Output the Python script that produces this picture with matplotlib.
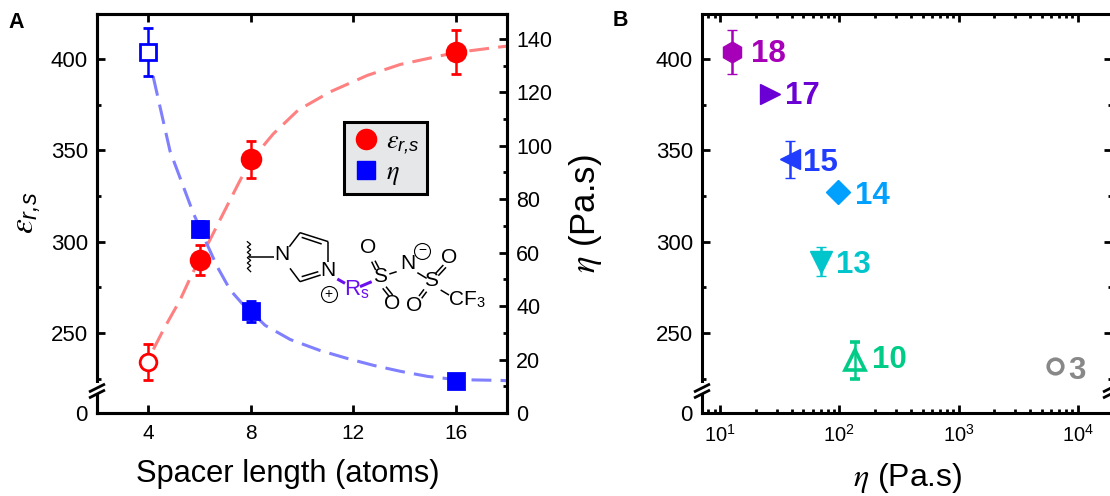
import numpy as np
import matplotlib
matplotlib.use("Agg")
import matplotlib.pyplot as plt
from matplotlib.lines import Line2D
from matplotlib.ticker import FixedLocator, LogLocator, NullFormatter

plt.rcParams["font.family"] = ["Liberation Sans", "DejaVu Sans"]
plt.rcParams["mathtext.fontset"] = "custom"
plt.rcParams["mathtext.rm"] = "Liberation Sans"
plt.rcParams["mathtext.it"] = "STIXGeneral:italic"
plt.rcParams["mathtext.sf"] = "Liberation Sans:italic"
plt.rcParams["mathtext.fallback"] = "stix"

W, H = 1110, 496

# Panel A data
spacer = [4, 6, 8, 16]
eps_vals = [234, 290, 345, 404]
eps_err = [10, 8, 10, 12]
eta_vals = [135, 69, 38, 12]
eta_err = [9, 3, 4, 0]

eps_curve_x = [4.2, 4.6, 5.24, 5.7, 6.3, 7.2, 7.6, 8, 8.64, 8.88, 9.85, 11.1, 12.55, 13.84, 15, 16, 17.75, 18]
eps_curve_y = [241, 252, 268, 282, 298, 323, 334, 344, 355, 359, 372, 382, 391, 397, 400.5, 403.5, 406.6, 407]
eta_curve_x = [4.19, 4.85, 5.75, 6.3, 6.7, 7.2, 7.66, 8, 8.56, 9.54, 10.7, 11.77, 12.8, 13.84, 14.9, 16, 17.75, 18]
eta_curve_y = [126, 98, 75, 63, 54.6, 46, 41, 38, 32.8, 27.5, 23.4, 20.4, 17.8, 15.6, 13.7, 12.5, 12.2, 12.1]

# Panel B data
sample_names = ["18", "17", "15", "14", "13", "10", "3"]
sample_eta = [12.6, 26.3, 38.7, 98, 70.6, 136, 6400]
sample_eps = [404, 381, 345, 327, 289, 235, 232]
sample_err = [12, 0, 10, 0, 8, 10, 0]
sample_marker = ["h", ">", "<", "D", "v", "^", "o"]
sample_color = ["#A600B8", "#6A00D4", "#1F3CFF", "#00A0FF", "#00C6CC", "#00CC88", "#888888"]
label_offset = [(13.5, -2), (11, -1.5), (9.5, -2.5), (12, -2.5), (10.5, -2), (12, 0.5), (10, -3.5)]

eps_ticks = [0, 250, 300, 350, 400]
eps_minor = [225, 275, 325, 375]
eta_ticks = list(range(0, 160, 20))
eta_minor = list(range(10, 150, 20))

# broken left axis: 0-219 squeezed in the bottom bit
BREAK_V = 219.3
BREAK_S = 13.1


def to_scaled(v):
    v = np.asarray(v, dtype=float)
    return np.where(v <= BREAK_V, v * BREAK_S / BREAK_V, BREAK_S + v - BREAK_V)


def from_scaled(s):
    s = np.asarray(s, dtype=float)
    return np.where(s <= BREAK_S, s * BREAK_V / BREAK_S, BREAK_V + s - BREAK_S)


def fx(px):
    return px / W


def fy(py):
    return 1 - py / H


def setup_eps_axis(ax):
    ax.set_yscale("function", functions=(to_scaled, from_scaled))
    ax.set_ylim(0, 424.6)
    ax.yaxis.set_major_locator(FixedLocator(eps_ticks))
    ax.yaxis.set_minor_locator(FixedLocator(eps_minor))
    ax.yaxis.set_major_formatter(plt.FixedFormatter([str(t) for t in eps_ticks]))
    ax.yaxis.set_minor_formatter(NullFormatter())
    for s in ax.spines.values():
        s.set_linewidth(2.2)


def fig_line(x0, y0, x1, y1, color="black", lw=1.0):
    fig.add_artist(Line2D([fx(x0), fx(x1)], [fy(y0), fy(y1)], color=color, lw=lw,
                          solid_capstyle="butt", zorder=6))


def axis_break(px):
    # white gap then two slanted strokes
    fig_line(px, 383, px, 393, color="white", lw=3)
    fig_line(px - 8, 392, px + 8, 384, lw=2)
    fig_line(px - 8, 398, px + 8, 390, lw=2)


fig = plt.figure(figsize=(W / 100, H / 100), dpi=100)

# ---- Panel A ----
ax1 = fig.add_axes([fx(97), fy(413), 410 / W, 399 / H])
setup_eps_axis(ax1)
ax1.set_xlim(2, 18)
ax1.set_xticks([4, 8, 12, 16])
ax1.tick_params(axis="x", which="major", direction="in", top=True, length=5.5, width=2,
                labelsize=15, pad=8)
ax1.tick_params(axis="y", which="major", direction="in", length=5.5, width=2, labelsize=16, pad=6.5)
ax1.tick_params(axis="y", which="minor", direction="in", length=3, width=2)

ax2 = ax1.twinx()
ax2.set_ylim(0, 149.3)
ax2.set_yticks(eta_ticks)
ax2.yaxis.set_minor_locator(FixedLocator(eta_minor))
ax2.tick_params(axis="y", which="major", direction="in", length=5.5, width=2, labelsize=15.5, pad=6.5)
ax2.tick_params(axis="y", which="minor", direction="in", length=3, width=2)
for s in ax2.spines.values():
    s.set_linewidth(2.2)

ax1.plot(eps_curve_x, eps_curve_y, color="#FF8080", lw=2.2, dashes=(6.5, 3))
ax2.plot(eta_curve_x, eta_curve_y, color="#8080FF", lw=2.2, dashes=(6.5, 3))

for i in range(len(spacer)):
    face = "white" if i == 0 else "red"
    ax1.errorbar(spacer[i], eps_vals[i], yerr=eps_err[i], fmt="o", ms=13.5 if i else 12,
                 mfc=face, mec="red", mew=2, color="red", elinewidth=1.8, capsize=3.8, capthick=1.8)
    face = "white" if i == 0 else "blue"
    ax2.errorbar(spacer[i], eta_vals[i], yerr=eta_err[i] if eta_err[i] else None, fmt="s",
                 ms=12, mfc=face, mec="blue", mew=2, color="blue", elinewidth=1.8,
                 capsize=3.8, capthick=1.8)

leg_handles = [
    Line2D([], [], marker="o", ls="", color="red", ms=14.5),
    Line2D([], [], marker="s", ls="", color="blue", ms=13),
]
leg = fig.legend(leg_handles, [r"$\varepsilon_{\mathsf{r{,}s}}$", r"$\eta$"], loc="center",
                 bbox_to_anchor=(fx(385.5), fy(158)), fontsize=19, fancybox=False,
                 facecolor="#E6E7E8", edgecolor="black", framealpha=1, handletextpad=0.2,
                 labelspacing=0.15, borderpad=0.28, handlelength=1.1)
leg.get_frame().set_linewidth(2.2)
leg.set_zorder(5)

fig.text(fx(288), fy(474), "Spacer length (atoms)", fontsize=22.2, ha="center", va="center")
fig.text(fx(27), fy(213), r"$\varepsilon_{\mathsf{r{,}s}}$", fontsize=24, rotation=90, ha="center", va="center")
fig.text(fx(586), fy(214), r"$\eta$ (Pa.s)", fontsize=25, rotation=90, ha="center", va="center")
fig.text(fx(8), fy(22), "A", fontsize=15.5, fontweight="bold", ha="left", va="center")
fig.text(fx(613), fy(21), "B", fontsize=15.5, fontweight="bold", ha="left", va="center")

# ---- Panel B ----
ax3 = fig.add_axes([fx(702), fy(413), 410 / W, 399 / H])
setup_eps_axis(ax3)
ax3.set_xscale("log")
ax3.set_xlim(7.07, 19320)
ax3.xaxis.set_major_locator(LogLocator(base=10, numticks=8))
ax3.xaxis.set_minor_locator(LogLocator(base=10, subs=np.arange(2, 10), numticks=12))
ax3.xaxis.set_minor_formatter(NullFormatter())
ax3.tick_params(axis="x", which="major", direction="in", top=True, length=5.5, width=2, labelsize=14.5, pad=8)
ax3.tick_params(axis="x", which="minor", direction="in", top=True, length=3, width=2)
ax3.tick_params(axis="y", which="major", direction="in", right=True, length=5.5, width=2, labelsize=16, pad=6.5)
ax3.tick_params(axis="y", which="minor", direction="in", right=True, length=3, width=2)

marker_size = {"h": 15, ">": 15, "<": 15, "D": 12.5, "v": 16, "^": 14, "o": 10.5}
for i in range(len(sample_names)):
    open_mark = sample_names[i] in ("10", "3")
    ax3.errorbar(sample_eta[i], sample_eps[i], yerr=sample_err[i] if sample_err[i] else None,
                 fmt=sample_marker[i], ms=marker_size[sample_marker[i]],
                 mfc="none" if open_mark else sample_color[i], mec=sample_color[i],
                 mew=2.6 if open_mark else 1, color=sample_color[i],
                 elinewidth=1.8, capsize=3.5, capthick=1.8)
    ax3.annotate(sample_names[i], (sample_eta[i], sample_eps[i]), xytext=label_offset[i],
                 textcoords="offset points", color=sample_color[i], fontsize=22.5,
                 fontweight="bold", ha="left", va="center")

fig.text(fx(908), fy(478), r"$\eta$ (Pa.s)", fontsize=23, ha="center", va="center")

axis_break(97)
axis_break(702)
axis_break(1111)


# ---- Molecule sketch (pixel positions on the page) ----
def zx(v):
    return 230 + v / 3


def zy(v):
    return 100 + v / 3


def bond(a, b, c, d, color="black", lw=1.1):
    fig_line(zx(a), zy(b), zx(c), zy(d), color=color, lw=lw)


def atom(x, y, s, color="black", size=15):
    fig.text(fx(zx(x)), fy(zy(y)), s, fontsize=size, color=color, ha="center", va="center", zorder=7)


for seg in [(58, 470, 132, 470), (178, 440, 210, 398), (210, 398, 295, 425), (295, 425, 295, 485),
            (272, 525, 210, 545), (210, 545, 180, 505), (215, 412, 275, 432), (215, 530, 265, 515),
            (478, 522, 500, 515), (562, 518, 590, 535), (632, 570, 657, 585),
            (425, 485, 437, 510), (435, 482, 447, 505), (458, 565, 478, 590), (468, 560, 488, 585),
            (617, 520, 640, 495), (625, 527, 648, 502), (575, 595, 590, 575), (567, 588, 582, 568)]:
    bond(*seg)
bond(322, 537, 345, 550, color="#6A10F0", lw=2.2)
bond(390, 560, 425, 545, color="#6A10F0", lw=2.2)

wave_y = [425, 433, 441, 449, 457, 465, 473, 481, 489, 497, 505, 515]
wave_x = [52, 62, 52, 62, 52, 62, 52, 62, 52, 62, 52, 62]
fig.add_artist(Line2D([fx(zx(v)) for v in wave_x], [fy(zy(v)) for v in wave_y], color="black", lw=0.9))

atom(155, 464, "N")
atom(295, 510, "N")
atom(450, 528, "S")
atom(413, 443, "O")
atom(487, 610, "O")
atom(533, 490, "N")
atom(603, 542, "S")
atom(658, 472, "O")
atom(552, 617, "O")
atom(710, 600, r"CF$_{\mathrm{3}}$")
atom(381, 568, r"R$_{\mathrm{s}}$", color="#6A10F0", size=16)
atom(296, 581, "+", size=10)
atom(577, 451, "\u2212", size=10)
for cx, cy in [(296, 581), (577, 452)]:
    fig.add_artist(Line2D([fx(zx(cx))], [fy(zy(cy))], marker="o", ms=11.5, mfc="none", mec="black", mew=0.8))

fig.savefig("out.png", dpi=100)
